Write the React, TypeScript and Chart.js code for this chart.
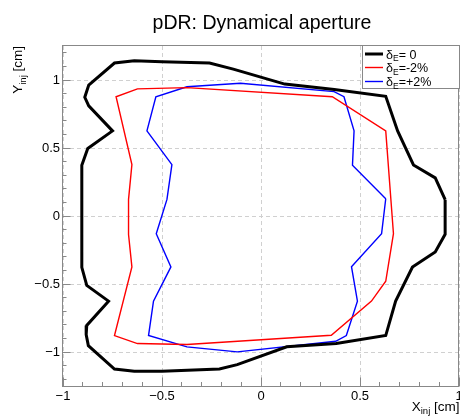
import React, { useEffect, useRef } from "react";
import { Chart, registerables } from "chart.js";

Chart.register(...registerables);

const FONT = '"Liberation Sans", Arial, Helvetica, sans-serif';

const titleText = "pDR: Dynamical aperture";
const xTitleMain = "X";
const xTitleSub = "inj";
const xTitleUnit = " [cm]";
const yTitleMain = "Y";
const yTitleSub = "inj";
const yTitleUnit = " [cm]";

const xRange = [-1, 1];
const yRange = [-1.25, 1.25];
const xTicks = [-1, -0.5, 0, 0.5, 1];
const yTicks = [-1, -0.5, 0, 0.5, 1];

const legendLabels = ["= 0", "=-2%", "=+2%"];
const seriesColors = ["#000000", "#ff0000", "#0000ff"];
const seriesWidths = [3, 1.4, 1.4];

// δE = 0
const blackX = [0.93, 0.88, 0.77, 0.69, 0.63, 0.37, 0.12, -0.14, -0.26, -0.5, -0.64, -0.74, -0.87, -0.89, -0.87, -0.75, -0.875, -0.905, -0.905, -0.88, -0.77, -0.88, -0.883, -0.872, -0.74, -0.64, -0.5, -0.21, -0.12, 0.13, 0.38, 0.63, 0.68, 0.765, 0.88, 0.93, 0.93];
const blackY = [0.12, 0.28, 0.375, 0.625, 0.88, 0.93, 0.97, 1.08, 1.125, 1.135, 1.142, 1.125, 0.963, 0.873, 0.81, 0.626, 0.497, 0.374, -0.377, -0.51, -0.626, -0.805, -0.872, -0.953, -1.125, -1.142, -1.142, -1.125, -1.093, -0.962, -0.938, -0.879, -0.626, -0.375, -0.264, -0.135, 0.12];

// δE = -2%
const redX = [0.669, 0.63, 0.36, -0.374, -0.624, -0.732, -0.652, -0.669, -0.669, -0.652, -0.74, -0.624, -0.374, 0.355, 0.558, 0.63, 0.669];
const redY = [-0.13, 0.626, 0.877, 0.944, 0.935, 0.877, 0.378, 0.122, -0.136, -0.374, -0.879, -0.938, -0.945, -0.877, -0.626, -0.48, -0.13];

// δE = +2%
const blueX = [0.63, 0.462, 0.47, 0.419, 0.369, -0.104, -0.374, -0.531, -0.576, -0.45, -0.475, -0.529, -0.455, -0.543, -0.568, -0.374, -0.12, 0.377, 0.431, 0.487, 0.457, 0.609, 0.63];
const blueY = [0.127, 0.374, 0.626, 0.877, 0.915, 0.976, 0.95, 0.877, 0.626, 0.378, 0.122, -0.131, -0.374, -0.626, -0.879, -0.962, -0.999, -0.921, -0.879, -0.626, -0.373, -0.13, 0.127];

const seriesX = [blackX, redX, blueX];
const seriesY = [blackY, redY, blueY];

const fmtTick = (v: number) => {
  if (v === 0) return "0";
  const s = String(Math.abs(v));
  return v < 0 ? "\u2212" + s : s;
};

const align = (p: number) => Math.round(p - 0.5) + 0.5;

const decorPlugin = {
  id: "rootDecor",
  afterDraw(chart: any) {
    const { ctx, chartArea: a, scales } = chart;
    const xs = scales.x;
    const ys = scales.y;
    ctx.save();

    // frame
    ctx.strokeStyle = "#888888";
    ctx.lineWidth = 1;
    ctx.setLineDash([]);
    ctx.strokeRect(a.left - 0.5, a.top - 0.5, a.right - a.left, a.bottom - a.top + 1);

    // ticks on x axis (inward)
    ctx.beginPath();
    for (let i = -10; i <= 10; i++) {
      const px = align(xs.getPixelForValue(i / 10));
      const len = i % 5 === 0 ? 9 : 4.5;
      ctx.moveTo(px, a.bottom + 0.5);
      ctx.lineTo(px, a.bottom + 0.5 - len);
    }
    for (let i = -12; i <= 12; i++) {
      const py = align(ys.getPixelForValue(i / 10));
      const len = i % 5 === 0 ? 8 : 4;
      ctx.moveTo(a.left - 0.5, py);
      ctx.lineTo(a.left - 0.5 + len, py);
    }
    ctx.stroke();

    // title
    ctx.fillStyle = "#000";
    ctx.textBaseline = "alphabetic";
    ctx.textAlign = "center";
    ctx.font = `19.5px ${FONT}`;
    ctx.fillText(titleText, 262, 28.5);

    // x title (right aligned)
    ctx.textAlign = "left";
    const mainF = `13.5px ${FONT}`;
    const subF = `9.5px ${FONT}`;
    ctx.font = mainF;
    const wX = ctx.measureText(xTitleMain).width;
    const wU = ctx.measureText(xTitleUnit).width;
    ctx.font = subF;
    const wS = ctx.measureText(xTitleSub).width;
    let x0 = 459.5 - (wX + wS + wU);
    const by = 410.5;
    ctx.font = mainF;
    ctx.fillText(xTitleMain, x0, by);
    ctx.font = subF;
    ctx.fillText(xTitleSub, x0 + wX, by + 3.5);
    ctx.font = mainF;
    ctx.fillText(xTitleUnit, x0 + wX + wS, by);

    // y title (rotated, ending at top)
    ctx.save();
    ctx.translate(22, 46);
    ctx.rotate(-Math.PI / 2);
    ctx.font = mainF;
    const yW = ctx.measureText(yTitleMain).width;
    const yU = ctx.measureText(yTitleUnit).width;
    ctx.font = subF;
    const yS = ctx.measureText(yTitleSub).width;
    const s0 = -(yW + yS + yU);
    ctx.font = mainF;
    ctx.fillText(yTitleMain, s0, 0);
    ctx.font = subF;
    ctx.fillText(yTitleSub, s0 + yW, 3.5);
    ctx.font = mainF;
    ctx.fillText(yTitleUnit, s0 + yW + yS, 0);
    ctx.restore();

    // legend
    const lx = 362.5, ly = 45.5, lw = 97, lh = 43;
    ctx.fillStyle = "#fff";
    ctx.fillRect(lx, ly, lw, lh);
    ctx.strokeStyle = "#888888";
    ctx.lineWidth = 1;
    ctx.strokeRect(lx, ly, lw, lh);
    const rows = [54, 67.5, 81.5];
    for (let k = 0; k < 3; k++) {
      const ry = rows[k];
      ctx.strokeStyle = seriesColors[k];
      ctx.lineWidth = seriesWidths[k];
      ctx.beginPath();
      ctx.moveTo(365, ry);
      ctx.lineTo(383, ry);
      ctx.stroke();
      ctx.fillStyle = "#000";
      ctx.textBaseline = "alphabetic";
      ctx.font = `12.5px ${FONT}`;
      const base = ry + 4.5;
      let tx = 386;
      ctx.fillText("\u03b4", tx, base);
      tx += ctx.measureText("\u03b4").width;
      ctx.font = `8.5px ${FONT}`;
      ctx.fillText("E", tx, base + 2.5);
      tx += ctx.measureText("E").width;
      ctx.font = `12.5px ${FONT}`;
      ctx.fillText(legendLabels[k], tx, base);
    }
    ctx.restore();
  },
};

export default function App() {
  const ref = useRef<HTMLCanvasElement | null>(null);

  useEffect(() => {
    if (!ref.current) return;
    const datasets = seriesX.map((xs, k) => ({
      label: legendLabels[k],
      data: xs.map((x, i) => ({ x, y: seriesY[k][i] })),
      showLine: true,
      borderColor: seriesColors[k],
      backgroundColor: seriesColors[k],
      borderWidth: seriesWidths[k],
      pointRadius: 0,
      fill: false,
      tension: 0,
    }));
    const tickFont = { family: FONT, size: 13 };
    const chart = new Chart(ref.current, {
      type: "scatter",
      data: { datasets },
      plugins: [decorPlugin],
      options: {
        responsive: false,
        animation: false,
        devicePixelRatio: 1,
        layout: { padding: { left: 0, right: 1, top: 46, bottom: 0 } },
        plugins: {
          legend: { display: false },
          title: { display: false },
          tooltip: { enabled: false },
        },
        scales: {
          x: {
            type: "linear",
            min: xRange[0],
            max: xRange[1],
            afterBuildTicks: (s: any) => {
              s.ticks = xTicks.map((v) => ({ value: v }));
            },
            afterFit: (s: any) => {
              s.height = 31;
              s.paddingLeft = 0;
              s.paddingRight = 0;
            },
            grid: { color: "#d0d0d0", lineWidth: 1, drawTicks: false },
            border: { display: false, dash: [4, 3] },
            ticks: {
              color: "#000",
              font: tickFont,
              padding: 3,
              maxRotation: 0,
              autoSkip: false,
              callback: (v: any) => fmtTick(Number(v)),
            },
          },
          y: {
            type: "linear",
            min: yRange[0],
            max: yRange[1],
            afterBuildTicks: (s: any) => {
              s.ticks = yTicks.map((v) => ({ value: v }));
            },
            afterFit: (s: any) => {
              s.width = 63;
              s.paddingTop = 0;
              s.paddingBottom = 0;
            },
            grid: { color: "#d0d0d0", lineWidth: 1, drawTicks: false },
            border: { display: false, dash: [4, 3] },
            ticks: {
              color: "#000",
              font: tickFont,
              padding: 3,
              autoSkip: false,
              callback: (v: any) => fmtTick(Number(v)),
            },
          },
        },
      },
    } as any);
    return () => chart.destroy();
  }, []);

  return (
    <div style={{ position: "absolute", left: 0, top: 0, width: 460, height: 417, background: "#fff" }}>
      <canvas ref={ref} width={460} height={417} style={{ display: "block" }} />
    </div>
  );
}
